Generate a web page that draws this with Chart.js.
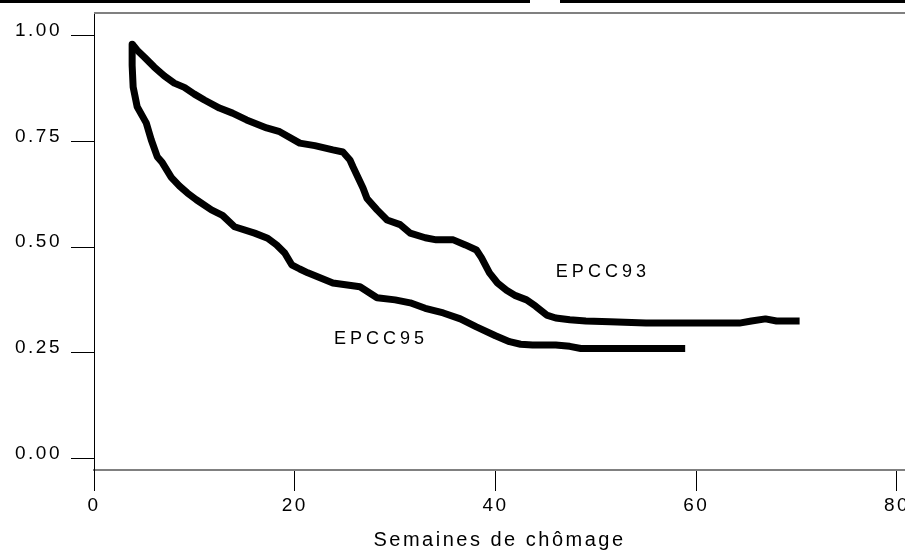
<!DOCTYPE html>
<html>
<head>
<meta charset="utf-8">
<script src="https://cdn.jsdelivr.net/npm/chart.js@4.4.1/dist/chart.umd.min.js"></script>
<style>
  body { margin: 0; background: #fff; }
  #wrap { width: 905px; height: 555px; }
</style>
</head>
<body>
<div id="wrap"><canvas id="survie" width="905" height="555"></canvas></div>
<script>
// semaines de chomage / survie estimee
var weeks93 = [3.8, 4.0, 4.3, 5.0, 6.0, 7.0, 8.0, 9.0, 10.0, 11.0, 12.5, 13.8, 15.2, 17.2, 18.5, 20.5, 22.0, 23.8, 24.8, 25.5, 25.8, 26.8, 27.2, 28.2, 29.2, 30.5, 31.5, 33.0, 34.1, 35.8, 37.0, 38.1, 38.6, 39.4, 40.2, 41.1, 42.0, 43.1, 44.0, 45.1, 46.0, 47.4, 49.0, 51.4, 55.0, 60.4, 64.3, 65.5, 66.9, 68.0, 70.3];
var surv93  = [0.98, 0.975, 0.966, 0.95, 0.926, 0.905, 0.888, 0.878, 0.862, 0.848, 0.829, 0.817, 0.801, 0.782, 0.773, 0.746, 0.74, 0.73, 0.725, 0.706, 0.69, 0.64, 0.615, 0.588, 0.564, 0.553, 0.533, 0.522, 0.517, 0.517, 0.505, 0.493, 0.475, 0.439, 0.415, 0.398, 0.385, 0.375, 0.36, 0.339, 0.332, 0.328, 0.325, 0.323, 0.32, 0.32, 0.32, 0.325, 0.33, 0.325, 0.325];

var weeks95 = [3.8, 3.8, 3.9, 4.3, 5.2, 5.7, 6.3, 6.8, 7.7, 8.5, 9.3, 10.2, 11.7, 12.8, 14.0, 16.0, 17.3, 18.2, 19.0, 19.7, 20.5, 21.3, 23.8, 26.5, 28.2, 30.0, 31.5, 33.0, 34.8, 36.5, 38.1, 40.0, 41.4, 42.5, 43.7, 46.0, 47.4, 48.5, 52.0, 55.0, 58.9];
var surv95  = [0.98, 0.93, 0.879, 0.832, 0.794, 0.754, 0.714, 0.70, 0.665, 0.645, 0.628, 0.612, 0.588, 0.575, 0.548, 0.533, 0.521, 0.505, 0.486, 0.458, 0.448, 0.439, 0.415, 0.406, 0.38, 0.375, 0.368, 0.355, 0.344, 0.33, 0.311, 0.29, 0.276, 0.27, 0.268, 0.268, 0.265, 0.26, 0.26, 0.26, 0.26];

var xTicks = [0, 20, 40, 60, 80];
var yTicks = [0, 0.25, 0.5, 0.75, 1];
var curveNames = ['EPCC93', 'EPCC95'];
var namePos = [[50.7, 0.441], [28.6, 0.282]];

var FONT = '"Liberation Sans", Arial, sans-serif';

function pts(xs, ys) {
    return xs.map(function (x, i) { return { x: x, y: ys[i] }; });
}

var decor = {
    id: 'decor',
    beforeDraw: function (chart) {
        chart.ctx.letterSpacing = '2.5px';
    },
    afterDraw: function (chart) {
        var ctx = chart.ctx, a = chart.chartArea;
        var sx = chart.scales.x, sy = chart.scales.y;
        ctx.save();
        // bandeau noir du titre coupe
        ctx.fillStyle = '#000';
        ctx.fillRect(0, 0, 530, 3);
        ctx.fillRect(560, 0, 345, 3);
        // cadre du haut
        ctx.strokeStyle = '#808080';
        ctx.lineWidth = 2;
        ctx.beginPath();
        ctx.moveTo(a.left, a.top);
        ctx.lineTo(a.right, a.top);
        ctx.stroke();
        // noms des courbes
        ctx.letterSpacing = '4px';
        ctx.fillStyle = '#000';
        ctx.font = '18px ' + FONT;
        ctx.textAlign = 'center';
        ctx.textBaseline = 'middle';
        curveNames.forEach(function (n, i) {
            ctx.fillText(n, sx.getPixelForValue(namePos[i][0]), sy.getPixelForValue(namePos[i][1]));
        });
        ctx.restore();
    }
};

new Chart(document.getElementById('survie'), {
    type: 'scatter',
    data: {
        datasets: [{
            label: 'EPCC93',
            data: pts(weeks93, surv93),
            showLine: true,
            borderColor: '#000',
            borderWidth: 7,
            pointRadius: 0,
            borderJoinStyle: 'round'
        }, {
            label: 'EPCC95',
            data: pts(weeks95, surv95),
            showLine: true,
            borderColor: '#000',
            borderWidth: 7,
            pointRadius: 0,
            borderJoinStyle: 'round'
        }]
    },
    options: {
        responsive: false,
        animation: false,
        layout: { padding: { top: 13, right: 0, left: 0, bottom: 0 } },
        plugins: { legend: { display: false }, tooltip: { enabled: false } },
        scales: {
            x: {
                type: 'linear',
                min: 0,
                max: 80.8,
                afterBuildTicks: function (s) { s.ticks = xTicks.map(function (v) { return { value: v }; }); },
                afterFit: function (s) { s.height = 85; s.paddingLeft = 0; s.paddingRight = 0; },
                ticks: {
                    color: '#000',
                    font: { family: FONT, size: 19 },
                    padding: 3,
                    maxRotation: 0,
                    callback: function (v) { return String(v); }
                },
                grid: { drawOnChartArea: false, tickLength: 21, tickColor: '#000', lineWidth: 1 },
                border: { color: '#808080', width: 2 },
                title: {
                    display: true,
                    text: 'Semaines de chômage',
                    color: '#000',
                    font: { family: FONT, size: 20 },
                    padding: { top: 4, bottom: 3 }
                }
            },
            y: {
                type: 'linear',
                min: -0.0277,
                max: 1.054,
                afterBuildTicks: function (s) { s.ticks = yTicks.map(function (v) { return { value: v }; }); },
                afterFit: function (s) { s.width = 94; s.paddingTop = 0; s.paddingBottom = 0; },
                ticks: {
                    color: '#000',
                    font: { family: FONT, size: 19 },
                    padding: 9,
                    labelOffset: -5,
                    callback: function (v) { return v.toFixed(2); }
                },
                grid: { drawOnChartArea: false, tickLength: 23, tickColor: '#000', lineWidth: 1 },
                border: { color: '#000', width: 1 }
            }
        }
    },
    plugins: [decor]
});
</script>
</body>
</html>
